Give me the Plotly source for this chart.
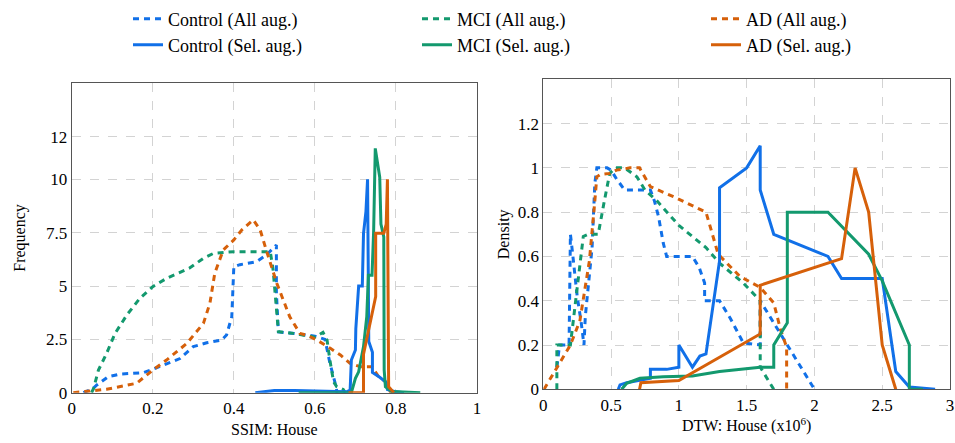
import plotly.graph_objects as go

# ---------------- data: left panel (SSIM: House) ----------------
ssim_ctrl_all_x = [0.029, 0.053, 0.062, 0.09, 0.12, 0.177, 0.2, 0.234, 0.267, 0.30, 0.333, 0.37, 0.382, 0.395, 0.40, 0.415, 0.456, 0.48, 0.505, 0.505, 0.51, 0.56, 0.60, 0.625, 0.637, 0.65, 0.655]
ssim_ctrl_all_y = [0, 0.2, 0.36, 0.75, 0.875, 0.94, 1.1, 1.34, 1.6, 2.16, 2.34, 2.47, 2.7, 3.56, 5.9, 6.0, 6.14, 6.45, 6.92, 4.7, 2.85, 2.75, 2.65, 2.5, 1.39, 0.45, 0]

ssim_mci_all_x = [0.049, 0.054, 0.066, 0.086, 0.107, 0.136, 0.168, 0.2, 0.234, 0.29, 0.325, 0.35, 0.40, 0.49, 0.497, 0.504, 0.51, 0.547, 0.60, 0.62, 0.63, 0.637, 0.646, 0.654, 0.67, 0.675]
ssim_mci_all_y = [0, 0.2, 1.06, 1.84, 2.78, 3.64, 4.42, 4.97, 5.36, 5.83, 6.3, 6.53, 6.61, 6.61, 5.75, 4.19, 2.86, 2.78, 2.6, 2.83, 2.47, 1.53, 0.52, 0.28, 0.15, 0]

ssim_ad_all_x = [0.004, 0.037, 0.086, 0.16, 0.2, 0.234, 0.284, 0.325, 0.341, 0.353, 0.374, 0.40, 0.42, 0.448, 0.465, 0.48, 0.506, 0.538, 0.563, 0.58, 0.605, 0.638, 0.663, 0.687, 0.712, 0.741, 0.757, 0.774, 0.786, 0.79]
ssim_ad_all_y = [0, 0.05, 0.16, 0.44, 1.06, 1.53, 2.31, 3.25, 4.19, 5.6, 6.69, 7.16, 7.63, 8.1, 7.63, 6.69, 5.13, 3.56, 2.78, 2.7, 2.47, 2.08, 1.77, 1.375, 1.22, 1.22, 0.75, 0.52, 0.05, 0]

ssim_ctrl_sel_x = [0.453, 0.50, 0.55, 0.68, 0.687, 0.69, 0.70, 0.701, 0.708, 0.717, 0.72, 0.726, 0.73, 0.733, 0.742, 0.742, 0.76, 0.775, 0.779, 0.80, 0.82]
ssim_ctrl_sel_y = [0, 0.1, 0.1, 0.05, 0.13, 1.53, 2.0, 3.0, 5.0, 5.0, 7.47, 8.5, 10.0, 2.4, 1.9, 0.95, 0.72, 0.5, 0.15, 0.04, 0]

ssim_mci_sel_x = [0.56, 0.69, 0.70, 0.708, 0.72, 0.728, 0.732, 0.741, 0.745, 0.749, 0.76, 0.763, 0.77, 0.771, 0.774, 0.79, 0.86]
ssim_mci_sel_y = [0, 0, 0.67, 0.98, 2.16, 3.56, 5.5, 5.5, 7.6, 11.45, 10.1, 7.9, 7.3, 1.06, 0.28, 0.06, 0]

ssim_ad_sel_x = [0.683, 0.72, 0.72, 0.75, 0.75, 0.77, 0.776, 0.779, 0.782, 0.795]
ssim_ad_sel_y = [0, 0, 1.8, 4.5, 7.47, 7.47, 7.9, 10.0, 0.28, 0]

# ---------------- data: right panel (DTW: House, x10^6) ----------------
dtw_ctrl_all_x = [0.1, 0.12, 0.19, 0.2, 0.215, 0.235, 0.25, 0.28, 0.30, 0.31, 0.36, 0.38, 0.395, 0.47, 0.50, 0.54, 0.60, 0.79, 0.82, 0.85, 0.885, 0.91, 1.1, 1.15, 1.19, 1.19, 1.30, 1.38, 1.475, 1.6, 1.6, 1.7, 1.8, 1.9, 2.0]
dtw_ctrl_all_y = [0.1, 0.2, 0.2, 0.7, 0.62, 0.5, 0.42, 0.3, 0.2, 0.33, 0.64, 0.93, 1.0, 1.0, 0.99, 0.95, 0.90, 0.90, 0.85, 0.78, 0.66, 0.60, 0.60, 0.55, 0.48, 0.40, 0.40, 0.32, 0.21, 0.2, 0.4, 0.3, 0.2, 0.1, 0]

dtw_mci_all_x = [0.1, 0.1, 0.2, 0.25, 0.295, 0.33, 0.405, 0.45, 0.49, 0.53, 0.60, 0.69, 0.75, 0.84, 1.0, 1.2, 1.3, 1.475, 1.6, 1.6, 1.7]
dtw_mci_all_y = [0, 0.2, 0.2, 0.45, 0.69, 0.70, 0.70, 0.85, 0.975, 1.0, 1.0, 0.96, 0.9, 0.85, 0.74, 0.64, 0.57, 0.48, 0.40, 0.10, 0]

dtw_ad_all_x = [0.005, 0.1, 0.2, 0.27, 0.34, 0.38, 0.395, 0.42, 0.49, 0.54, 0.64, 0.71, 0.79, 0.96, 1.2, 1.29, 1.45, 1.6, 1.7, 1.75, 1.795, 1.795]
dtw_ad_all_y = [0, 0.1, 0.2, 0.31, 0.58, 0.85, 0.96, 0.97, 0.975, 0.99, 1.0, 1.0, 0.915, 0.87, 0.80, 0.61, 0.51, 0.46, 0.39, 0.27, 0.19, 0]

dtw_ctrl_sel_x = [0.553, 0.566, 0.615, 0.79, 0.79, 0.91, 1.0, 1.0, 1.1, 1.155, 1.2, 1.3, 1.3, 1.5, 1.6, 1.6, 1.7, 2.1, 2.2, 2.5, 2.6, 2.7, 2.89]
dtw_ctrl_sel_y = [0, 0.02, 0.03, 0.05, 0.09, 0.09, 0.1, 0.2, 0.1, 0.15, 0.16, 0.58, 0.91, 1.0, 1.1, 0.9, 0.7, 0.6, 0.5, 0.5, 0.08, 0.01, 0]

dtw_mci_sel_x = [0.578, 0.615, 0.713, 0.885, 1.1, 1.3, 1.6, 1.7, 1.7, 1.8, 1.8, 2.1, 2.4, 2.5, 2.7, 2.7, 2.8]
dtw_mci_sel_y = [0, 0.027, 0.05, 0.057, 0.06, 0.08, 0.1, 0.1, 0.2, 0.3, 0.8, 0.8, 0.61, 0.49, 0.2, 0.0, 0.0]

dtw_ad_sel_x = [0.71, 0.72, 1.0, 1.6, 1.6, 2.2, 2.3, 2.4, 2.5, 2.6]
dtw_ad_sel_y = [0.0, 0.03, 0.04, 0.25, 0.47, 0.59, 1.0, 0.8, 0.2, 0.0]

# tick labels
ssim_yticks = [0, 2.5, 5, 7.5, 10, 12]
ssim_yticklabels = ["0", "2.5", "5", "7.5", "10", "12"]
ssim_xticks = [0, 0.2, 0.4, 0.6, 0.8, 1]
ssim_xticklabels = ["0", "0.2", "0.4", "0.6", "0.8", "1"]
dtw_yticks = [0, 0.2, 0.4, 0.6, 0.8, 1.0, 1.2]
dtw_yticklabels = ["0", "0.2", "0.4", "0.6", "0.8", "1", "1.2"]
dtw_xticks = [0, 0.5, 1, 1.5, 2, 2.5, 3]
dtw_xticklabels = ["0", "0.5", "1", "1.5", "2", "2.5", "3"]

names_all = ["Control (All aug.)", "MCI (All aug.)", "AD (All aug.)"]
names_sel = ["Control (Sel. aug.)", "MCI (Sel. aug.)", "AD (Sel. aug.)"]

BLUE = "#1170e8"
GREEN = "#13996e"
ORANGE = "#d6600a"
colors = [BLUE, GREEN, ORANGE]
FONT = "Times New Roman"
DOT = "6px,5px"
LW = 3

fig = go.Figure()

left_all = [(ssim_ctrl_all_x, ssim_ctrl_all_y), (ssim_mci_all_x, ssim_mci_all_y), (ssim_ad_all_x, ssim_ad_all_y)]
left_sel = [(ssim_ctrl_sel_x, ssim_ctrl_sel_y), (ssim_mci_sel_x, ssim_mci_sel_y), (ssim_ad_sel_x, ssim_ad_sel_y)]
right_all = [(dtw_ctrl_all_x, dtw_ctrl_all_y), (dtw_mci_all_x, dtw_mci_all_y), (dtw_ad_all_x, dtw_ad_all_y)]
right_sel = [(dtw_ctrl_sel_x, dtw_ctrl_sel_y), (dtw_mci_sel_x, dtw_mci_sel_y), (dtw_ad_sel_x, dtw_ad_sel_y)]

for i, (x, y) in enumerate(left_all):
    fig.add_trace(go.Scatter(x=x, y=y, mode="lines", name=names_all[i], legend="legend",
                             line=dict(color=colors[i], width=LW, dash=DOT), xaxis="x", yaxis="y"))
for i, (x, y) in enumerate(left_sel):
    fig.add_trace(go.Scatter(x=x, y=y, mode="lines", name=names_sel[i], legend="legend2",
                             line=dict(color=colors[i], width=LW), xaxis="x", yaxis="y"))
for i, (x, y) in enumerate(right_all):
    fig.add_trace(go.Scatter(x=x, y=y, mode="lines", name=names_all[i], showlegend=False,
                             line=dict(color=colors[i], width=LW, dash=DOT), xaxis="x2", yaxis="y2"))
for i, (x, y) in enumerate(right_sel):
    fig.add_trace(go.Scatter(x=x, y=y, mode="lines", name=names_sel[i], showlegend=False,
                             line=dict(color=colors[i], width=LW), xaxis="x2", yaxis="y2"))

W, H = 955, 443
axis_common = dict(showline=True, mirror=True, linecolor="#555555", linewidth=1,
                   showgrid=True, gridcolor="#d3d3d3", griddash="dash", gridwidth=1,
                   zeroline=False, ticks="", automargin=False,
                   tickfont=dict(family=FONT, size=17, color="#000"))

fig.update_layout(
    width=W, height=H,
    margin=dict(l=0, r=0, t=0, b=0, autoexpand=False),
    paper_bgcolor="white", plot_bgcolor="white",
    font=dict(family=FONT, size=16, color="#000"),
    xaxis=dict(domain=[71.7 / W, 477 / W], range=[0, 1], tickvals=ssim_xticks, ticktext=ssim_xticklabels,
               title=dict(text="SSIM: House", font=dict(family=FONT, size=16), standoff=6), anchor="y", **axis_common),
    yaxis=dict(domain=[1 - 392.7 / H, 1 - 83.3 / H], range=[0, 14.5], tickvals=ssim_yticks, ticktext=ssim_yticklabels,
               title=dict(text="Frequency", font=dict(family=FONT, size=16), standoff=16), anchor="x", **axis_common),
    xaxis2=dict(domain=[543.3 / W, 950 / W], range=[0, 3], tickvals=dtw_xticks, ticktext=dtw_xticklabels,
                title=dict(text="DTW: House (x10<sup>6</sup>)", font=dict(family=FONT, size=16), standoff=6), anchor="y2", **axis_common),
    yaxis2=dict(domain=[1 - 389.3 / H, 1 - 79.3 / H], range=[0, 1.4], tickvals=dtw_yticks, ticktext=dtw_yticklabels,
                title=dict(text="Density", font=dict(family=FONT, size=16), standoff=4), anchor="x2", **axis_common),
    legend=dict(orientation="h", xref="container", yref="container", x=128 / W, xanchor="left",
                y=1 - 19 / H, yanchor="middle", entrywidth=244, entrywidthmode="pixels",
                font=dict(family=FONT, size=18), bgcolor="rgba(0,0,0,0)", itemwidth=30),
    legend2=dict(orientation="h", xref="container", yref="container", x=128 / W, xanchor="left",
                 y=1 - 45 / H, yanchor="middle", entrywidth=244, entrywidthmode="pixels",
                 font=dict(family=FONT, size=18), bgcolor="rgba(0,0,0,0)", itemwidth=30),
)

fig.write_html("out.html", config={"displayModeBar": False},
               post_script="document.body.style.margin='0px';")
